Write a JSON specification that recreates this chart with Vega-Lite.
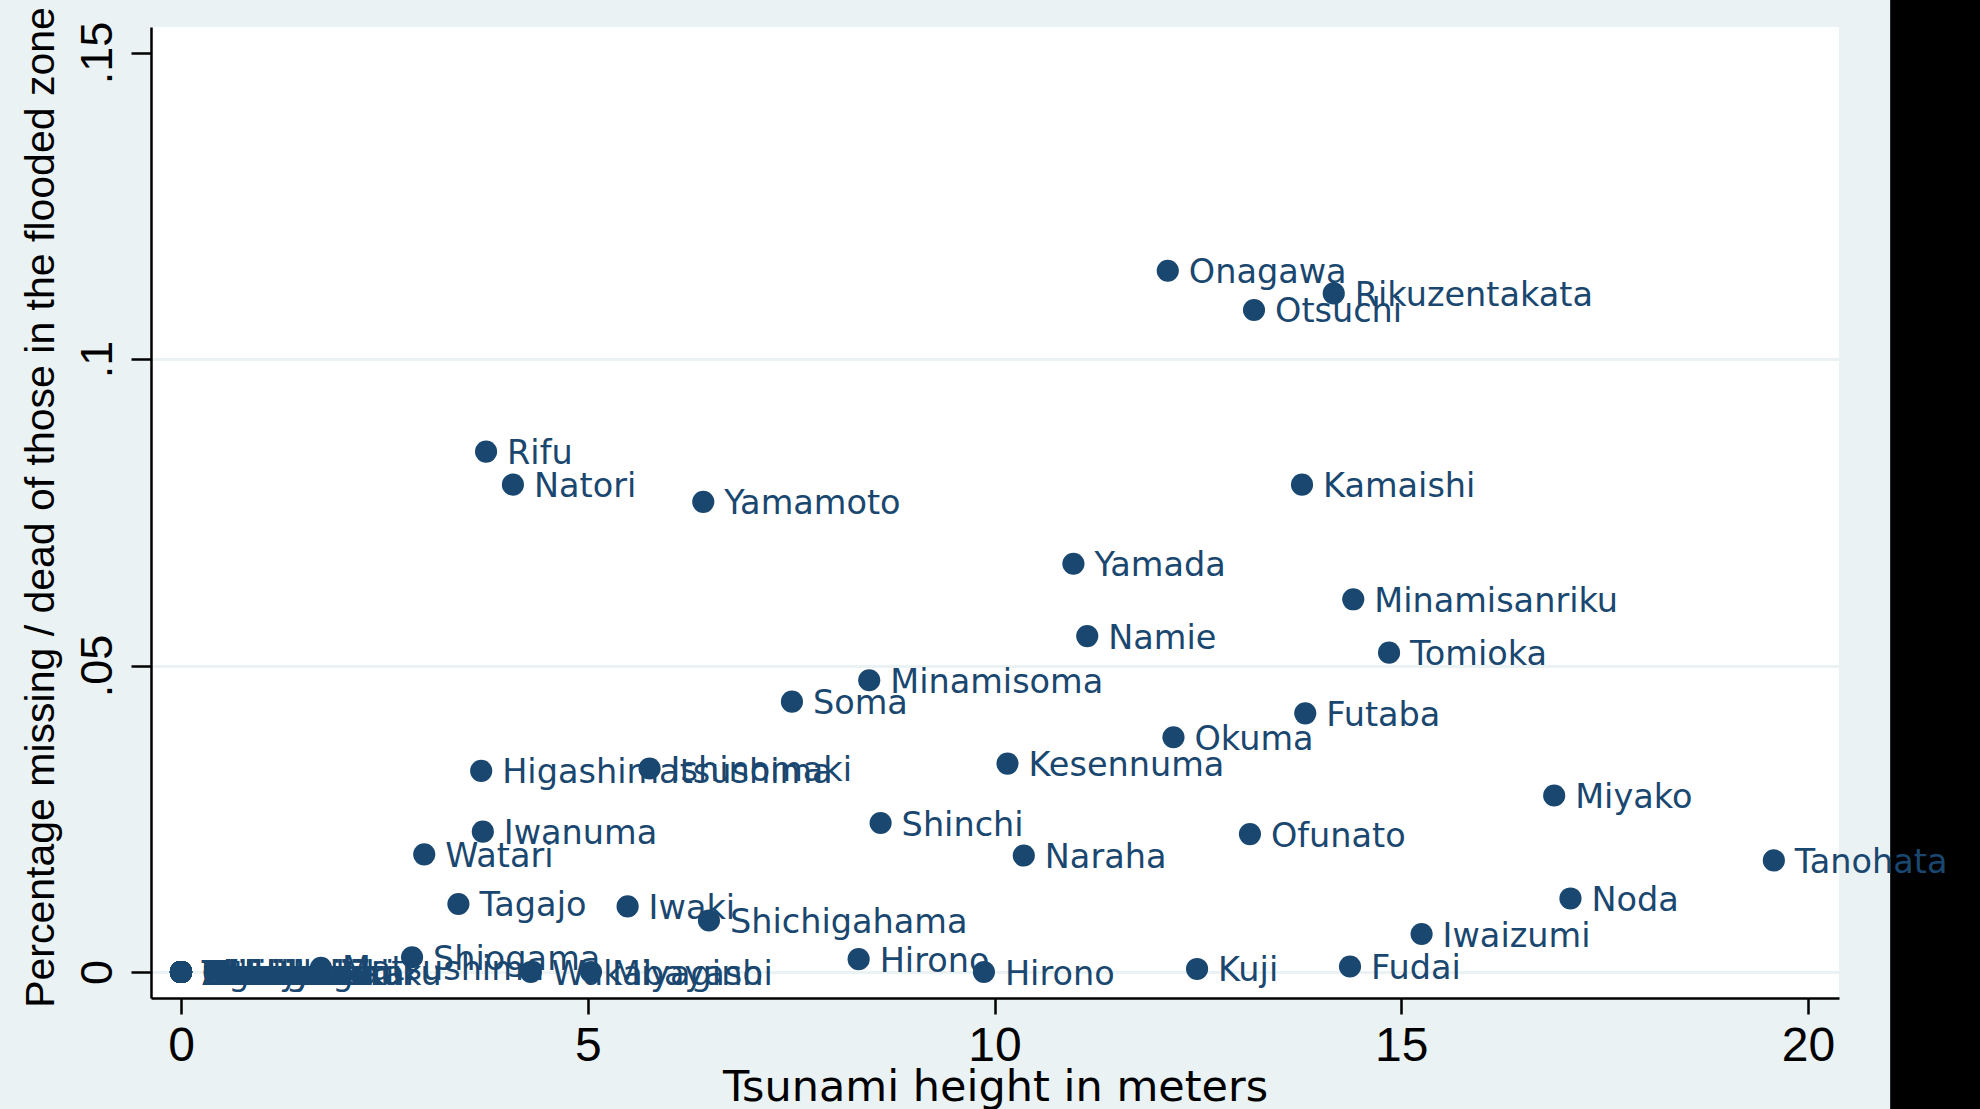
{
  "$schema": "https://vega.github.io/schema/vega-lite/v6.json",
  "autosize": {"type": "none"},
  "padding": {"left": 151, "top": 27, "right": 141, "bottom": 111},
  "width": 1688,
  "height": 971,
  "background": "#EAF2F3",
  "config": {
    "view": {"fill": "white", "stroke": null}
  },
  "data": {
    "values": [
      {"town": "Onagawa", "height": 12.13, "share": 0.1144},
      {"town": "Rikuzentakata", "height": 14.17, "share": 0.1107},
      {"town": "Otsuchi", "height": 13.19, "share": 0.108},
      {"town": "Rifu", "height": 3.75, "share": 0.0849},
      {"town": "Natori", "height": 4.08, "share": 0.0795},
      {"town": "Yamamoto", "height": 6.42, "share": 0.0767},
      {"town": "Kamaishi", "height": 13.78, "share": 0.0795},
      {"town": "Yamada", "height": 10.97, "share": 0.0666},
      {"town": "Minamisanriku", "height": 14.41, "share": 0.0608},
      {"town": "Namie", "height": 11.14, "share": 0.0548},
      {"town": "Tomioka", "height": 14.85, "share": 0.0521},
      {"town": "Minamisoma", "height": 8.46, "share": 0.0476},
      {"town": "Soma", "height": 7.51, "share": 0.0441},
      {"town": "Futaba", "height": 13.82, "share": 0.0422},
      {"town": "Okuma", "height": 12.2, "share": 0.0383},
      {"town": "Higashimatsushima", "height": 3.69, "share": 0.0328},
      {"town": "Ishinomaki", "height": 5.76, "share": 0.0332},
      {"town": "Kesennuma", "height": 10.16, "share": 0.034},
      {"town": "Miyako", "height": 16.88, "share": 0.0288},
      {"town": "Shinchi", "height": 8.6, "share": 0.0243},
      {"town": "Iwanuma", "height": 3.71, "share": 0.0229},
      {"town": "Ofunato", "height": 13.14, "share": 0.0225},
      {"town": "Watari", "height": 2.99, "share": 0.0192},
      {"town": "Naraha", "height": 10.36, "share": 0.019},
      {"town": "Tanohata", "height": 19.58, "share": 0.0182},
      {"town": "Tagajo", "height": 3.41, "share": 0.0111},
      {"town": "Iwaki", "height": 5.49, "share": 0.0107},
      {"town": "Noda", "height": 17.08, "share": 0.012},
      {"town": "Shichigahama", "height": 6.49, "share": 0.0084},
      {"town": "Iwaizumi", "height": 15.25, "share": 0.0062},
      {"town": "Hirono", "height": 8.33, "share": 0.0021},
      {"town": "Hirono", "height": 9.87, "share": 0.0},
      {"town": "Kuji", "height": 12.49, "share": 0.0005},
      {"town": "Fudai", "height": 14.37, "share": 0.0009},
      {"town": "Shiogama", "height": 2.84, "share": 0.0024},
      {"town": "Matsushima", "height": 1.72, "share": 0.0007},
      {"town": "Wakabayashi", "height": 4.3, "share": 0.0},
      {"town": "Miyagino", "height": 5.04, "share": 0.0},
      {"town": "Aoba", "height": 0, "share": 0},
      {"town": "Taihaku", "height": 0, "share": 0},
      {"town": "Izumi", "height": 0, "share": 0},
      {"town": "Shiroishi", "height": 0, "share": 0},
      {"town": "Kakuda", "height": 0, "share": 0},
      {"town": "Tome", "height": 0, "share": 0},
      {"town": "Kurihara", "height": 0, "share": 0},
      {"town": "Osaki", "height": 0, "share": 0},
      {"town": "Tomiya", "height": 0, "share": 0},
      {"town": "Zao", "height": 0, "share": 0},
      {"town": "Shichikashuku", "height": 0, "share": 0},
      {"town": "Ogawara", "height": 0, "share": 0},
      {"town": "Murata", "height": 0, "share": 0},
      {"town": "Shibata", "height": 0, "share": 0},
      {"town": "Kawasaki", "height": 0, "share": 0},
      {"town": "Marumori", "height": 0, "share": 0},
      {"town": "Taiwa", "height": 0, "share": 0},
      {"town": "Osato", "height": 0, "share": 0},
      {"town": "Ohira", "height": 0, "share": 0},
      {"town": "Shikama", "height": 0, "share": 0},
      {"town": "Kami", "height": 0, "share": 0},
      {"town": "Wakuya", "height": 0, "share": 0},
      {"town": "Misato", "height": 0, "share": 0},
      {"town": "Hachimantai", "height": 0, "share": 0},
      {"town": "Ichinoseki", "height": 0, "share": 0},
      {"town": "Kanegasaki", "height": 0, "share": 0},
      {"town": "Shizukuishi", "height": 0, "share": 0},
      {"town": "Nishiwaga", "height": 0, "share": 0},
      {"town": "Kuzumaki", "height": 0, "share": 0},
      {"town": "Hiraizumi", "height": 0, "share": 0},
      {"town": "Kitakami", "height": 0, "share": 0},
      {"town": "Hanamaki", "height": 0, "share": 0},
      {"town": "Yahaba", "height": 0, "share": 0},
      {"town": "Katsurao", "height": 0, "share": 0},
      {"town": "Kawamata", "height": 0, "share": 0}
    ]
  },
  "encoding": {
    "x": {
      "field": "height",
      "type": "quantitative",
      "scale": {"domain": [-0.3688, 20.381], "nice": false, "zero": false},
      "axis": {
        "title": "Tsunami height in meters",
        "values": [0, 5, 10, 15, 20],
        "grid": false,
        "domainColor": "#000000",
        "domainWidth": 2.5,
        "tickColor": "#000000",
        "tickWidth": 2.5,
        "tickSize": 16,
        "labelFont": "Liberation Sans",
        "labelFontSize": 48,
        "labelColor": "#000000",
        "labelBaseline": "alphabetic",
        "labelPadding": 46,
        "labelFlush": false,
        "labelOverlap": false,
        "titleFont": "DejaVu Sans",
        "titleFontSize": 43,
        "titleFontWeight": "normal",
        "titleColor": "#000000",
        "titleBaseline": "alphabetic",
        "titleAlign": "center",
        "titleX": 844,
        "titleY": 102
      }
    },
    "y": {
      "field": "share",
      "type": "quantitative",
      "scale": {"domain": [-0.00424, 0.15416], "nice": false, "zero": false},
      "axis": {
        "title": "Percentage missing / dead of those in the flooded zone",
        "values": [0, 0.05, 0.1, 0.15],
        "labelExpr": "datum.value == 0 ? '0' : replace(format(datum.value, '~g'), /^0/, '')",
        "grid": true,
        "gridColor": "#EAF2F3",
        "gridWidth": 3,
        "gridOpacity": {"condition": {"test": "datum.value > 0.12", "value": 0}, "value": 1},
        "domainColor": "#000000",
        "domainWidth": 2.5,
        "tickColor": "#000000",
        "tickWidth": 2.5,
        "tickSize": 20,
        "labelFont": "Liberation Sans",
        "labelFontSize": 45,
        "labelColor": "#000000",
        "labelAngle": -90,
        "labelAlign": "center",
        "labelBaseline": "alphabetic",
        "labelPadding": 20,
        "labelFlush": false,
        "labelOverlap": false,
        "titleFont": "Liberation Sans",
        "titleFontSize": 41,
        "titleFontWeight": "normal",
        "titleColor": "#000000",
        "titleAngle": -90,
        "titleBaseline": "alphabetic",
        "titleAlign": "center",
        "titleX": -98,
        "titleY": 480
      }
    }
  },
  "layer": [
    {
      "mark": {"type": "rect", "color": "#000000", "clip": false},
      "encoding": {
        "x": {"datum": 21.02},
        "x2": {"datum": 23.5},
        "y": {"datum": -0.05},
        "y2": {"datum": 0.2}
      }
    },
    {
      "mark": {"type": "circle", "size": 490, "color": "#1a476f", "opacity": 1}
    },
    {
      "mark": {
        "type": "text",
        "align": "left",
        "baseline": "alphabetic",
        "dx": 21,
        "dy": 12.5,
        "font": "DejaVu Sans",
        "fontSize": 33.5,
        "color": "#1a476f"
      },
      "encoding": {"text": {"field": "town"}}
    }
  ]
}
